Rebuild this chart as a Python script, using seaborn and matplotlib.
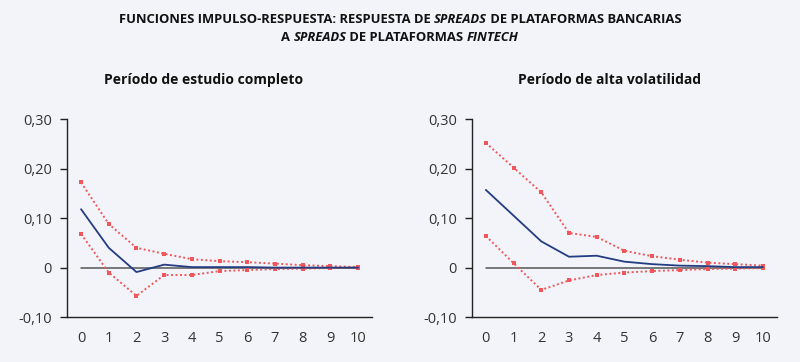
import matplotlib
matplotlib.use("Agg")
import matplotlib.pyplot as plt
import seaborn as sns
import pandas as pd

periods = list(range(11))

# Periodo de estudio completo
full_irf = [0.118, 0.040, -0.009, 0.006, 0.001, 0.001, 0.001, 0.000, 0.000, 0.000, 0.000]
full_upper = [0.172, 0.088, 0.040, 0.028, 0.017, 0.013, 0.011, 0.008, 0.005, 0.003, 0.001]
full_lower = [0.068, -0.010, -0.057, -0.015, -0.015, -0.007, -0.005, -0.003, -0.002, -0.001, 0.000]

# Periodo de alta volatilidad
vol_irf = [0.157, 0.105, 0.053, 0.022, 0.024, 0.012, 0.007, 0.004, 0.003, 0.001, 0.001]
vol_upper = [0.252, 0.202, 0.152, 0.070, 0.062, 0.034, 0.023, 0.016, 0.010, 0.007, 0.004]
vol_lower = [0.064, 0.009, -0.045, -0.026, -0.015, -0.010, -0.007, -0.005, -0.003, -0.002, -0.001]

y_ticks = [-0.10, 0.0, 0.10, 0.20, 0.30]
y_labels = ["-0,10", "0", "0,10", "0,20", "0,30"]

BG = "#f3f4f9"
BLUE = "#233c82"
RED = "#f0575a"
TEXT = "#333333"

sns.set_style("white")
plt.rcParams["font.family"] = ["Open Sans", "DejaVu Sans"]

fig = plt.figure(figsize=(8, 3.62), dpi=100)
fig.patch.set_facecolor(BG)


def draw_panel(ax, irf, upper, lower, subtitle, title_x):
    ax.set_facecolor(BG)
    df = pd.DataFrame({"t": periods, "irf": irf, "up": upper, "lo": lower})
    ax.plot([0, 10], [0, 0], color="#555555", lw=1.1, zorder=1)
    for col in ["up", "lo"]:
        sns.lineplot(data=df, x="t", y=col, ax=ax, color=RED, lw=1.4,
                     linestyle=(0, (1, 1.3)), marker="s", markersize=2.6,
                     markeredgewidth=0, zorder=2)
    sns.lineplot(data=df, x="t", y="irf", ax=ax, color=BLUE, lw=1.3, zorder=3)
    ax.set_xlim(-0.5, 10.5)
    ax.set_ylim(-0.10, 0.30)
    ax.set_xticks([i - 0.5 for i in range(12)], minor=False)
    ax.set_xticklabels([])
    ax.set_xticks(periods, minor=True)
    ax.set_xticklabels([str(p) for p in periods], minor=True)
    ax.tick_params(axis="x", which="major", length=5, width=1, color="#222222",
                   direction="out")
    ax.tick_params(axis="x", which="minor", length=0, labelsize=10.5,
                   labelcolor=TEXT, pad=10)
    ax.set_yticks(y_ticks)
    ax.set_yticklabels(y_labels)
    ax.tick_params(axis="y", length=5, width=1, color="#222222", labelsize=10.5,
                   labelcolor=TEXT, direction="out", pad=6, left=True)
    for s in ["top", "right"]:
        ax.spines[s].set_visible(False)
    for s in ["left", "bottom"]:
        ax.spines[s].set_color("#222222")
        ax.spines[s].set_linewidth(1)
    ax.set_xlabel("")
    ax.set_ylabel("")
    ax.set_title(subtitle, fontsize=10, fontweight="bold", color="#111111",
                 loc="left", x=title_x, pad=25)


ax1 = fig.add_axes([0.084, 0.124, 0.381, 0.547])
ax2 = fig.add_axes([0.590, 0.124, 0.381, 0.547])
draw_panel(ax1, full_irf, full_upper, full_lower, "Período de estudio completo", 0.12)
draw_panel(ax2, vol_irf, vol_upper, vol_lower, "Período de alta volatilidad", 0.15)


def rich_line(segments, y, size=9.4):
    # segments of (text, italic) centred on the figure
    renderer = fig.canvas.get_renderer()
    texts = []
    for txt, it in segments:
        t = fig.text(0, y, txt, fontsize=size, fontweight="bold",
                     style="italic" if it else "normal", color="#111111",
                     va="baseline", ha="left")
        texts.append(t)
    widths = [t.get_window_extent(renderer).width for t in texts]
    total = sum(widths)
    x = (fig.bbox.width - total) / 2
    for t, w in zip(texts, widths):
        t.set_x(x / fig.bbox.width)
        x += w


rich_line([("FUNCIONES IMPULSO-RESPUESTA: RESPUESTA DE ", False), ("SPREADS", True),
           (" DE PLATAFORMAS BANCARIAS", False)], 1 - 23 / 362)
rich_line([("A ", False), ("SPREADS", True), (" DE PLATAFORMAS ", False),
           ("FINTECH", True)], 1 - 41 / 362)

fig.savefig("out.png", dpi=100, facecolor=BG)
